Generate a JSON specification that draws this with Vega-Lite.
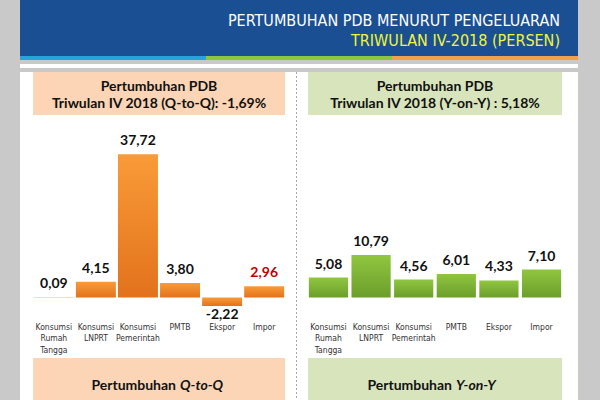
{
  "$schema": "https://vega.github.io/schema/vega-lite/v6.json",
  "background": "#c9c9c9",
  "padding": {"left": 20, "right": 22, "top": 0, "bottom": 0},
  "spacing": 0,
  "config": {
    "view": {"stroke": null},
    "concat": {"spacing": 0},
    "font": "Lato",
    "locale": {"number": {"decimal": ",", "thousands": ".", "grouping": [3], "currency": ["", ""], "minus": "-"}}
  },
  "datasets": {
    "qtq": [
      {"category": "Konsumsi Rumah Tangga", "value": 0.09},
      {"category": "Konsumsi LNPRT", "value": 4.15},
      {"category": "Konsumsi Pemerintah", "value": 37.72},
      {"category": "PMTB", "value": 3.80},
      {"category": "Ekspor", "value": -2.22},
      {"category": "Impor", "value": 2.96}
    ],
    "yoy": [
      {"category": "Konsumsi Rumah Tangga", "value": 5.08},
      {"category": "Konsumsi LNPRT", "value": 10.79},
      {"category": "Konsumsi Pemerintah", "value": 4.56},
      {"category": "PMTB", "value": 6.01},
      {"category": "Ekspor", "value": 4.33},
      {"category": "Impor", "value": 7.10}
    ],
    "banner": [
      {"line": 1, "text": "PERTUMBUHAN PDB MENURUT PENGELUARAN"},
      {"line": 2, "text": "TRIWULAN IV-2018 (PERSEN)"}
    ],
    "strip": [{"seg": "A"}, {"seg": "B"}, {"seg": "C"}],
    "headerQ": [
      {"line": 1, "text": "Pertumbuhan PDB"},
      {"line": 2, "text": "Triwulan IV 2018 (Q-to-Q): -1,69%"}
    ],
    "headerY": [
      {"line": 1, "text": "Pertumbuhan PDB"},
      {"line": 2, "text": "Triwulan IV 2018 (Y-on-Y) : 5,18%"}
    ],
    "footerQ": [{"lead": "Pertumbuhan", "term": "Q-to-Q"}],
    "footerY": [{"lead": "Pertumbuhan", "term": "Y-on-Y"}],
    "blank": [{"line": 1}],
    "empty": [{}]
  },
  "vconcat": [
    {
      "width": 558, "height": 56,
      "view": {"fill": "#1a4f94"},
      "data": {"name": "banner"},
      "mark": {"type": "text", "align": "right", "baseline": "middle", "dx": -18, "dy": 3, "font": "DejaVu Sans Condensed, Roboto", "fontSize": 16},
      "encoding": {
        "x": {"value": "width"},
        "y": {"field": "line", "type": "ordinal", "axis": null, "scale": {"padding": 0.9}},
        "text": {"field": "text"},
        "color": {"condition": {"test": "datum.line === 1", "value": "#ffffff"}, "value": "#f0f53a"}
      }
    },
    {
      "width": 558, "height": 4,
      "data": {"name": "strip"},
      "mark": {"type": "bar"},
      "encoding": {
        "x": {"field": "seg", "type": "nominal", "axis": null, "scale": {"paddingInner": 0, "paddingOuter": 0}},
        "color": {"field": "seg", "type": "nominal", "legend": null, "scale": {"range": ["#29a3dc", "#8dc63f", "#f3a04b"]}}
      }
    },
    {"width": 558, "height": 4, "view": {"fill": "#ffffff"}, "data": {"name": "blank"}, "mark": {"type": "text", "text": " "}, "encoding": {"y": {"field": "line", "type": "ordinal", "axis": null}}},
    {
      "spacing": 0,
      "hconcat": [
        {"width": 13, "height": 336, "view": {"fill": "#ffffff"}, "data": {"name": "blank"}, "mark": {"type": "text", "text": " "}, "encoding": {"y": {"field": "line", "type": "ordinal", "axis": null}}},
        {
          "spacing": 0,
          "vconcat": [
            {
              "width": 252, "height": 43,
              "view": {"fill": "#fbd5b5"},
              "data": {"name": "headerQ"},
              "mark": {"type": "text", "baseline": "middle", "dy": 2, "fontSize": 14, "fontWeight": "bold", "color": "#111111"},
              "encoding": {
                "y": {"field": "line", "type": "ordinal", "axis": null, "scale": {"padding": 0.7}},
                "text": {"field": "text"}
              }
            },
            {
              "width": 252, "height": 243,
              "view": {"fill": "#ffffff"},
              "data": {"name": "qtq"},
              "encoding": {
                "x": {"field": "category", "type": "nominal", "sort": null, "title": null,
                  "scale": {"paddingInner": 0.05, "paddingOuter": 0.02},
                  "axis": {"domain": false, "ticks": false, "offset": -48, "labelAngle": 0, "labelPadding": 12, "labelFont": "DejaVu Sans Condensed, Roboto", "labelFontSize": 8.5, "labelColor": "#333333", "labelLineHeight": 11.5, "labelExpr": "split(datum.label, ' ')", "labelLimit": 0}},
                "y": {"field": "value", "type": "quantitative", "axis": null, "scale": {"domain": [-15.92, 48.03], "nice": false}}
              },
              "layer": [
                {"mark": {"type": "bar", "color": {"gradient": "linear", "x1": 0, "y1": 0, "x2": 0, "y2": 1, "stops": [{"offset": 0, "color": "#f99b38"}, {"offset": 1, "color": "#e2721c"}]}}},
                {
                  "transform": [{"filter": "datum.value >= 0"}],
                  "mark": {"type": "text", "baseline": "bottom", "dy": -6, "fontSize": 14, "fontWeight": "bold"},
                  "encoding": {
                    "text": {"field": "value", "type": "quantitative", "format": ".2f"},
                    "color": {"condition": {"test": "datum.category === 'Impor'", "value": "#c00000"}, "value": "#111111"}
                  }
                },
                {
                  "transform": [{"filter": "datum.value < 0"}],
                  "mark": {"type": "text", "baseline": "top", "dy": 2, "fontSize": 14, "fontWeight": "bold", "color": "#111111"},
                  "encoding": {"text": {"field": "value", "type": "quantitative", "format": ".2f"}}
                }
              ]
            },
            {
              "width": 252, "height": 47,
              "view": {"fill": "#fbd5b5"},
              "data": {"name": "footerQ"},
              "layer": [
                {"mark": {"type": "text", "align": "right", "baseline": "middle", "dx": 17, "dy": 4, "fontSize": 14, "fontWeight": "bold", "color": "#111111"}, "encoding": {"text": {"field": "lead"}}},
                {"mark": {"type": "text", "align": "left", "baseline": "middle", "dx": 21, "dy": 4, "fontSize": 14, "fontWeight": "bold", "fontStyle": "italic", "color": "#111111"}, "encoding": {"text": {"field": "term"}}}
              ]
            },
            {"width": 252, "height": 3, "view": {"fill": "#ffffff"}, "data": {"name": "blank"}, "mark": {"type": "text", "text": " "}, "encoding": {"y": {"field": "line", "type": "ordinal", "axis": null}}}
          ]
        },
        {"width": 11, "height": 336, "view": {"fill": "#ffffff"}, "data": {"name": "blank"}, "mark": {"type": "text", "text": " "}, "encoding": {"y": {"field": "line", "type": "ordinal", "axis": null}}},
        {"width": 1, "height": 336, "view": {"fill": "#ffffff"}, "data": {"name": "empty"}, "mark": {"type": "rule", "color": "#a8a8a8", "strokeDash": [2, 2]}, "encoding": {"x": {"datum": 0, "type": "quantitative", "axis": null, "scale": {"domain": [-1, 1]}}}},
        {"width": 11, "height": 336, "view": {"fill": "#ffffff"}, "data": {"name": "blank"}, "mark": {"type": "text", "text": " "}, "encoding": {"y": {"field": "line", "type": "ordinal", "axis": null}}},
        {
          "spacing": 0,
          "vconcat": [
            {
              "width": 254, "height": 43,
              "view": {"fill": "#d8e4bc"},
              "data": {"name": "headerY"},
              "mark": {"type": "text", "baseline": "middle", "dy": 2, "fontSize": 14, "fontWeight": "bold", "color": "#111111"},
              "encoding": {
                "y": {"field": "line", "type": "ordinal", "axis": null, "scale": {"padding": 0.7}},
                "text": {"field": "text"}
              }
            },
            {
              "width": 254, "height": 243,
              "view": {"fill": "#ffffff"},
              "data": {"name": "yoy"},
              "encoding": {
                "x": {"field": "category", "type": "nominal", "sort": null, "title": null,
                  "scale": {"paddingInner": 0.08, "paddingOuter": 0.02},
                  "axis": {"domain": false, "ticks": false, "offset": -48, "labelAngle": 0, "labelPadding": 12, "labelFont": "DejaVu Sans Condensed, Roboto", "labelFontSize": 8.5, "labelColor": "#333333", "labelLineHeight": 11.5, "labelExpr": "split(datum.label, ' ')", "labelLimit": 0}},
                "y": {"field": "value", "type": "quantitative", "axis": null, "scale": {"domain": [-15.39, 46.44], "nice": false}}
              },
              "layer": [
                {"mark": {"type": "bar", "color": {"gradient": "linear", "x1": 0, "y1": 0, "x2": 0, "y2": 1, "stops": [{"offset": 0, "color": "#90c640"}, {"offset": 1, "color": "#6b9e2b"}]}}},
                {
                  "mark": {"type": "text", "baseline": "bottom", "dy": -6, "fontSize": 14, "fontWeight": "bold", "color": "#111111"},
                  "encoding": {"text": {"field": "value", "type": "quantitative", "format": ".2f"}}
                }
              ]
            },
            {
              "width": 254, "height": 47,
              "view": {"fill": "#d8e4bc"},
              "data": {"name": "footerY"},
              "layer": [
                {"mark": {"type": "text", "align": "right", "baseline": "middle", "dx": 17, "dy": 4, "fontSize": 14, "fontWeight": "bold", "color": "#111111"}, "encoding": {"text": {"field": "lead"}}},
                {"mark": {"type": "text", "align": "left", "baseline": "middle", "dx": 21, "dy": 4, "fontSize": 14, "fontWeight": "bold", "fontStyle": "italic", "color": "#111111"}, "encoding": {"text": {"field": "term"}}}
              ]
            },
            {"width": 254, "height": 3, "view": {"fill": "#ffffff"}, "data": {"name": "blank"}, "mark": {"type": "text", "text": " "}, "encoding": {"y": {"field": "line", "type": "ordinal", "axis": null}}}
          ]
        },
        {"width": 16, "height": 336, "view": {"fill": "#ffffff"}, "data": {"name": "blank"}, "mark": {"type": "text", "text": " "}, "encoding": {"y": {"field": "line", "type": "ordinal", "axis": null}}}
      ]
    }
  ]
}
